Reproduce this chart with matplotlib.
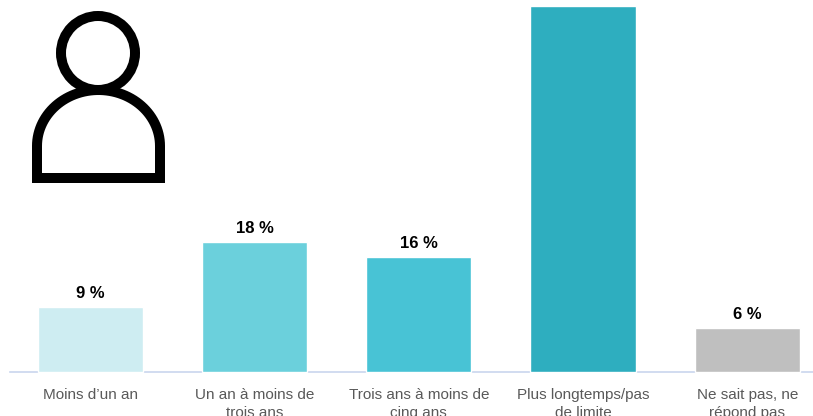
import matplotlib
matplotlib.use('Agg')
import matplotlib.pyplot as plt
from matplotlib.patches import Circle, PathPatch
from matplotlib.path import Path
import numpy as np

categories = ['Moins d’un an', 'Un an à moins de\ntrois ans', 'Trois ans à moins de\ncinq ans',
              'Plus longtemps/pas\nde limite', 'Ne sait pas, ne\nrépond pas']
values = [9, 18, 16, 51, 6]
# the tall bar has no label in the picture
labels = ['9 %', '18 %', '16 %', '', '6 %']
colors = ['#ceedf2', '#6bd0dc', '#48c3d5', '#2eaebf', '#bfbfbf']

plt.rcParams['font.family'] = ['Liberation Sans', 'DejaVu Sans']

W, H = 813, 416
fig = plt.figure(figsize=(W / 100, H / 100), dpi=100)
ax = fig.add_axes([0, 0, 1, 1])

# axes fill the whole figure, limits chosen so the baseline sits at y=372px
step = 164.2
left_px = 90.4
per_pct = 7.17
base_px = 371.5
ax.set_xlim(-left_px / step, (W - left_px) / step)
ax.set_ylim(-(H - base_px) / per_pct, base_px / per_pct)

xs = np.arange(len(values))
ax.axhline(0, xmin=10 / W, color='#c9d6ee', lw=1.2, zorder=1)
bars = ax.bar(xs, values, width=0.64, color=colors, edgecolor='white', linewidth=1, zorder=2)

for x, v, t in zip(xs, values, labels):
    if t:
        ax.annotate(t, (x, v), xytext=(0, 4.5), textcoords='offset points', ha='center', va='bottom',
                    fontsize=12, fontweight='bold', color='black')

ax.set_xticks(xs, categories)
ax.tick_params(axis='x', length=0, pad=-20.5, labelsize=11, labelcolor='#595959')
for lab in ax.get_xticklabels():
    lab.set_linespacing(1.42)
    lab.set_va('top')
ax.set_yticks([])
for s in ax.spines.values():
    s.set_visible(False)

# person icon, in pixel coordinates
icon = fig.add_axes([0, 0, 1, 1], facecolor='none')
icon.set_xlim(0, W)
icon.set_ylim(H, 0)
icon.axis('off')
icon.add_patch(Circle((98, 53), 37, fill=False, ec='black', lw=7.2))
t = np.linspace(np.pi, 0, 60)
px = np.concatenate([[37], 98.5 + 61.5 * np.cos(t), [160]])
py = np.concatenate([[178], 146 - 56 * np.sin(t), [178]])
verts = list(zip(px, py)) + [(37, 178)]
codes = [Path.MOVETO] + [Path.LINETO] * (len(verts) - 2) + [Path.CLOSEPOLY]
icon.add_patch(PathPatch(Path(verts, codes), fill=False, ec='black', lw=7.2, joinstyle='miter'))

fig.savefig('out.png', dpi=100)
